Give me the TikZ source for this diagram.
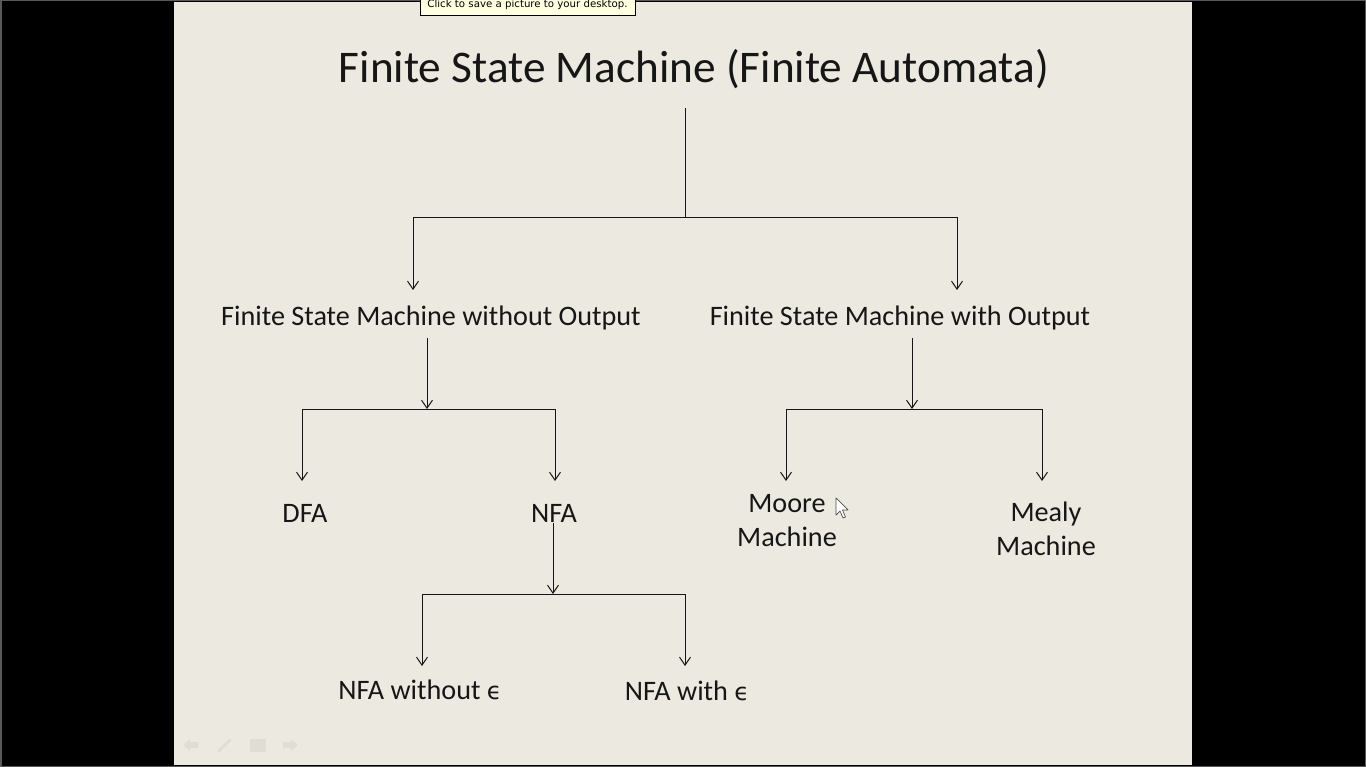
\documentclass[tikz,border=0pt]{standalone}
\usepackage{fontspec}
\setmainfont{Carlito}
\newfontfamily\tipfont{DejaVu Sans}
\newfontfamily\epsfont{DejaVu Sans}
\usetikzlibrary{arrows.meta}

\definecolor{slidebg}{RGB}{236,234,224}
\definecolor{tipbg}{RGB}{255,255,225}
\definecolor{ink}{RGB}{22,22,22}
\definecolor{faint}{RGB}{224,222,212}

\begin{document}
\begin{tikzpicture}[x=1pt,y=-1pt]
		\tikzset{term/.style={text=ink,
							  inner sep=0pt,
							  align=center,
							  font=\fontsize{28.2}{34}\selectfont},
				 heading/.style={text=ink,
								 inner sep=0pt,
								 font=\fontsize{45.3}{50}\selectfont},
				 tip/.style={draw=black,
							 fill=tipbg,
							 line width=0.8pt,
							 inner sep=0pt,
							 font=\tipfont\fontsize{10.2}{12}\selectfont},
				 branch/.style={draw=ink,
								line width=1pt},
				 arrow/.style={branch,
							   -{Straight Barb[length=8pt,width=11pt]}}}
		\useasboundingbox (0,0) rectangle (1366,767);
		% Screen and slide
		\fill[black] (0,0) rectangle (1366,767);
		\fill[slidebg] (174,2) rectangle (1192,765);
		\draw[black!65,line width=1.5pt] (0.75,0.75) rectangle (1365.25,766.25);

		% Nodes
		\node[heading] (fsm) at (694,69) {Finite State Machine (Finite Automata)};
		\node[term] (nout) at (431,318) {Finite State Machine without Output};
		\node[term] (wout) at (900,318) {Finite State Machine with Output};
		\node[term] (dfa) at (305,513) {DFA};
		\node[term] (nfa) at (554,513) {NFA};
		\node[term] (moore) at (787,521) {Moore\\Machine};
		\node[term] (mealy) at (1046,529) {Mealy\\Machine};
		\node[term] (nfanoe) at (420,690) {NFA without {\epsfont\fontsize{24}{28}\selectfont ϵ}};
		\node[term] (nfae) at (687,691) {NFA with {\epsfont\fontsize{24}{28}\selectfont ϵ}};
		\node[tip, minimum width=215pt, minimum height=21pt] (savetip) at (527.5,5) {Click to save a picture to your desktop.};

		% Junctions
		\coordinate (top) at (685,108);
		\coordinate (j0) at (685,218);
		\coordinate (in1) at (413,290);
		\coordinate (in2) at (957,290);
		\coordinate (out1) at (427,338);
		\coordinate (j1) at (427,409);
		\coordinate (in3) at (302,481);
		\coordinate (in4) at (555,481);
		\coordinate (out2) at (912,338);
		\coordinate (j2) at (912,409);
		\coordinate (in5) at (786,481);
		\coordinate (in6) at (1042,481);
		\coordinate (out3) at (553,523);
		\coordinate (j3) at (553,594);
		\coordinate (in7) at (422,666);
		\coordinate (in8) at (685,666);

		% Arrows
		\draw[branch] (top) -- (j0);
		\draw[arrow] (j0) -| (in1);
		\draw[arrow] (j0) -| (in2);
		\draw[arrow] (out1) -- (j1);
		\draw[arrow] (j1) -| (in3);
		\draw[arrow] (j1) -| (in4);
		\draw[arrow] (out2) -- (j2);
		\draw[arrow] (j2) -| (in5);
		\draw[arrow] (j2) -| (in6);
		\draw[arrow] (out3) -- (j3);
		\draw[arrow] (j3) -| (in7);
		\draw[arrow] (j3) -| (in8);

		% Pointer
		\draw[black!70,fill=white,line width=0.7pt,line join=round]
			(836,498) -- (836,515) -- (840,511) -- (843,518) -- (845.5,517) -- (842.5,510) -- (848,510) -- cycle;

		% Slide show buttons
		\fill[faint] (183,745) -- (190,739) -- (190,742) -- (198,742) -- (198,748) -- (190,748) -- (190,751) -- cycle;
		\draw[faint,line width=2.5pt,line cap=round] (219,751) -- (230,740);
		\fill[faint] (250,739) rectangle (266,752);
		\fill[faint] (298,745) -- (291,739) -- (291,742) -- (283,742) -- (283,748) -- (291,748) -- (291,751) -- cycle;
	\end{tikzpicture}
\end{document}
